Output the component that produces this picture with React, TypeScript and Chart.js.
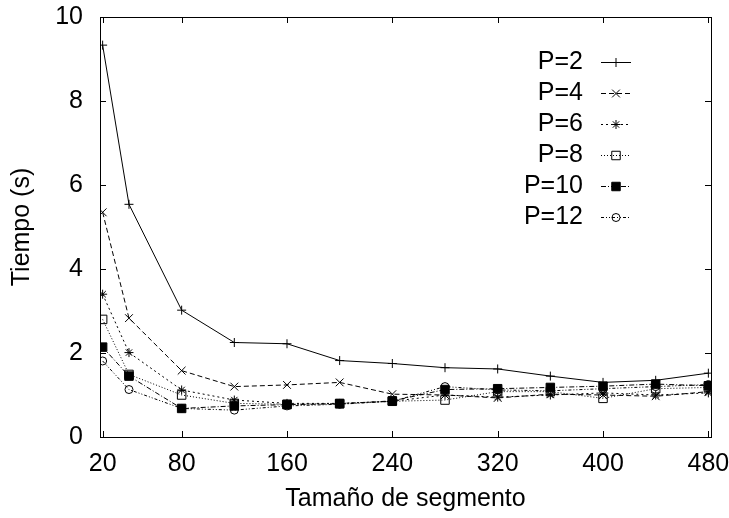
import { useEffect, useRef } from 'react';
import { Chart, registerables } from 'chart.js';
import { drawPoint } from 'chart.js/helpers';

Chart.register(...registerables);

// Segment sizes on the x axis and the timings (seconds) for each process count
const segmentSizes = [20, 40, 80, 120, 160, 200, 240, 280, 320, 360, 400, 440, 480];
const xTickValues = [20, 80, 160, 240, 320, 400, 480];
const yTickValues = [0, 2, 4, 6, 8, 10];
const seriesLabels = ['P=2', 'P=4', 'P=6', 'P=8', 'P=10', 'P=12'];

const timesP2 = [9.33, 5.54, 3.02, 2.25, 2.22, 1.82, 1.75, 1.65, 1.62, 1.45, 1.3, 1.35, 1.52];
const timesP4 = [5.35, 2.83, 1.58, 1.2, 1.24, 1.3, 1.02, 1.0, 0.93, 1.02, 1.0, 0.97, 1.08];
const timesP6 = [3.4, 2.01, 1.12, 0.88, 0.8, 0.8, 0.85, 1.0, 0.95, 1.0, 1.05, 1.0, 1.05];
const timesP8 = [2.8, 1.49, 1.0, 0.8, 0.78, 0.8, 0.85, 0.88, 1.08, 1.08, 0.92, 1.15, 1.18];
const timesP10 = [2.14, 1.45, 0.68, 0.74, 0.77, 0.79, 0.86, 1.13, 1.15, 1.18, 1.21, 1.26, 1.22];
const timesP12 = [1.81, 1.13, 0.68, 0.64, 0.74, 0.78, 0.85, 1.2, 1.12, 1.1, 1.15, 1.2, 1.25];

const allSeries = [timesP2, timesP4, timesP6, timesP8, timesP10, timesP12];

const FONT = '"Liberation Sans", Arial, Helvetica, sans-serif';
const CLEAR = 'rgba(0,0,0,0)';

// Per-series line/marker look (gnuplot-like monochrome styles)
const styles = [
  { dash: [] as number[], pointStyle: 'cross', radius: 4.5, fill: CLEAR },
  { dash: [5, 3], pointStyle: 'crossRot', radius: 5.5, fill: CLEAR },
  { dash: [2, 3], pointStyle: 'star', radius: 4.5, fill: CLEAR },
  { dash: [1, 2], pointStyle: 'rect', radius: 6, fill: CLEAR },
  { dash: [5, 2, 1, 2], pointStyle: 'rect', radius: 6, fill: '#000' },
  { dash: [3, 2, 1, 2, 1, 2], pointStyle: 'circle', radius: 4, fill: CLEAR },
];

// Box frame with inward ticks on all four sides
const framePlugin = {
  id: 'frameTicks',
  afterDatasetsDraw(chart: any) {
    const { ctx, chartArea } = chart;
    const { left, right, top, bottom } = chartArea;
    const xs = chart.scales.x;
    const ys = chart.scales.y;
    const len = 6;
    ctx.save();
    ctx.strokeStyle = '#000';
    ctx.lineWidth = 1;
    ctx.setLineDash([]);
    ctx.strokeRect(Math.round(left) + 0.5, Math.round(top) + 0.5, Math.round(right - left), Math.round(bottom - top));
    ctx.beginPath();
    xTickValues.forEach((v) => {
      const px = Math.round(xs.getPixelForValue(v)) + 0.5;
      ctx.moveTo(px, bottom);
      ctx.lineTo(px, bottom - len);
      ctx.moveTo(px, top);
      ctx.lineTo(px, top + len);
    });
    yTickValues.forEach((v) => {
      const py = Math.round(ys.getPixelForValue(v)) + 0.5;
      ctx.moveTo(left, py);
      ctx.lineTo(left + len, py);
      ctx.moveTo(right, py);
      ctx.lineTo(right - len, py);
    });
    ctx.stroke();
    ctx.restore();
  },
};

// Key in the upper right: label, then a line sample with its marker
const keyPlugin = {
  id: 'sampleKey',
  afterDraw(chart: any, _args: any, opts: any) {
    const { ctx } = chart;
    const { textRight, lineStart, lineEnd, firstY, step } = opts;
    ctx.save();
    chart.data.datasets.forEach((ds: any, i: number) => {
      const y = firstY + i * step;
      ctx.font = `25px ${FONT}`;
      ctx.fillStyle = '#000';
      ctx.textAlign = 'right';
      ctx.textBaseline = 'middle';
      ctx.fillText(ds.label, textRight, y);
      ctx.strokeStyle = '#000';
      ctx.lineWidth = 1;
      ctx.setLineDash(ds.borderDash || []);
      ctx.beginPath();
      ctx.moveTo(lineStart, y + 0.5);
      ctx.lineTo(lineEnd, y + 0.5);
      ctx.stroke();
      ctx.setLineDash([]);
      ctx.fillStyle = ds.pointBackgroundColor;
      drawPoint(ctx, { pointStyle: ds.pointStyle, radius: ds.pointRadius, rotation: 0, borderWidth: 1 }, (lineStart + lineEnd) / 2, y + 0.5);
    });
    ctx.restore();
  },
};

export default function App() {
  const canvasRef = useRef<HTMLCanvasElement | null>(null);

  useEffect(() => {
    document.body.style.margin = '0';
    const canvas = canvasRef.current;
    if (!canvas) return;

    const datasets = allSeries.map((values, i) => ({
      label: seriesLabels[i],
      data: segmentSizes.map((x, j) => ({ x, y: values[j] })),
      borderColor: '#000',
      borderWidth: 1,
      borderDash: styles[i].dash,
      pointStyle: styles[i].pointStyle,
      pointRadius: styles[i].radius,
      pointBorderColor: '#000',
      pointBackgroundColor: styles[i].fill,
      pointBorderWidth: 1,
      tension: 0,
      fill: false,
    }));

    const chart = new Chart(canvas, {
      type: 'line',
      data: { datasets },
      options: {
        responsive: false,
        animation: false,
        devicePixelRatio: 1,
        layout: { padding: { top: 17, right: 18, left: 0, bottom: 0 } },
        plugins: {
          legend: { display: false },
          tooltip: { enabled: false },
          sampleKey: { textRight: 583, lineStart: 601, lineEnd: 631, firstY: 62, step: 31 },
        } as any,
        scales: {
          x: {
            type: 'linear',
            min: 18,
            max: 482,
            grid: { display: false, drawTicks: false, tickLength: 0 },
            border: { display: false },
            ticks: { color: '#000', font: { family: FONT, size: 25 }, padding: 12, autoSkip: false, maxRotation: 0 },
            title: { display: true, text: 'Tamaño de segmento', color: '#000', font: { family: FONT, size: 25 }, padding: { top: 0, bottom: 4 } },
            afterBuildTicks: (s: any) => {
              s.ticks = xTickValues.map((v) => ({ value: v }));
            },
            afterFit: (s: any) => {
              s.height = 81;
              s.paddingLeft = 0;
              s.paddingRight = 0;
            },
          },
          y: {
            type: 'linear',
            min: 0,
            max: 10,
            grid: { display: false, drawTicks: false, tickLength: 0 },
            border: { display: false },
            ticks: { color: '#000', font: { family: FONT, size: 25 }, padding: 17 },
            title: { display: true, text: 'Tiempo (s)', color: '#000', font: { family: FONT, size: 25 }, padding: { top: 7, bottom: 0 } },
            afterBuildTicks: (s: any) => {
              s.ticks = yTickValues.map((v) => ({ value: v }));
            },
            afterFit: (s: any) => {
              s.width = 100;
              s.paddingTop = 0;
              s.paddingBottom = 0;
            },
          },
        },
      },
      plugins: [framePlugin, keyPlugin],
    });

    return () => chart.destroy();
  }, []);

  return (
    <div style={{ position: 'absolute', left: 0, top: 0, width: 729, height: 518, background: '#fff' }}>
      <canvas ref={canvasRef} width={729} height={518} style={{ display: 'block', width: 729, height: 518 }} />
    </div>
  );
}
